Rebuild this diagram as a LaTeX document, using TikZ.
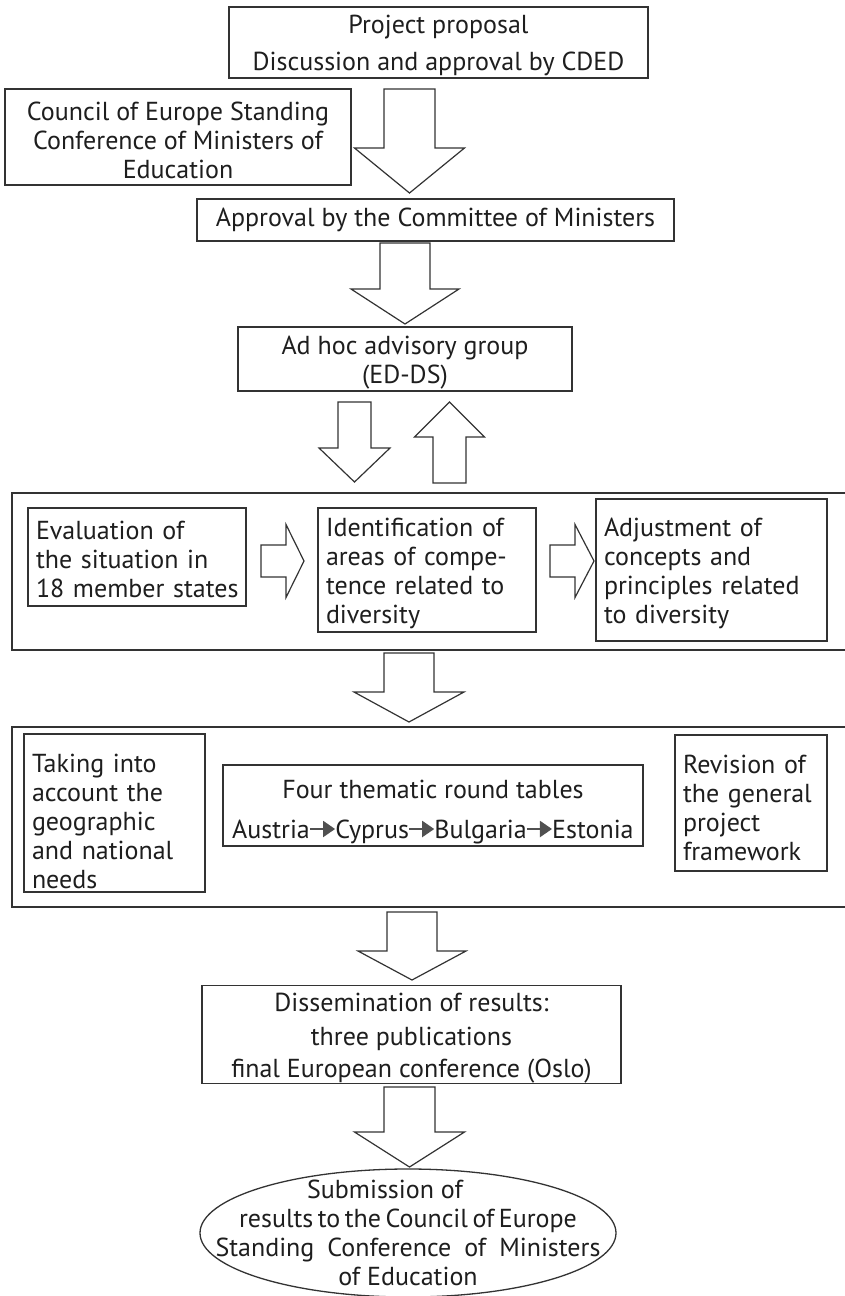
\documentclass[tikz,border=0pt]{standalone}
\usepackage{fontspec}
\setmainfont{PT Sans}
\usetikzlibrary{shapes.geometric,arrows.meta,positioning}
\definecolor{linec}{HTML}{333333}
\definecolor{textc}{HTML}{1E1E1E}
\definecolor{arrc}{HTML}{505050}
% block arrow pointing down (or up when tip < top): x, top y, head-base y, tip y, shaft half width, head half width
\newcommand{\BDown}[6]{\draw[barrow] (#1-#5,#2) -- (#1+#5,#2) -- (#1+#5,#3) -- (#1+#6,#3) -- (#1,#4) -- (#1-#6,#3) -- (#1-#5,#3) -- cycle;}
% block arrow pointing right: y, start x, head-base x, tip x, shaft half, head half
\newcommand{\BRight}[6]{\draw[barrow] (#2,#1-#5) -- (#3,#1-#5) -- (#3,#1-#6) -- (#4,#1) -- (#3,#1+#6) -- (#3,#1+#5) -- (#2,#1+#5) -- cycle;}
\newcommand{\TopPad}[1]{\rule{0pt}{#1}}
\tikzset{
  box/.style={draw=linec, line width=1.3pt, rectangle, inner sep=0pt, text=textc, align=center,
              font=\fontsize{26}{29}\selectfont},
  lbox/.style={box, align=left, inner xsep=8pt},
  outer/.style={draw=linec, line width=1.3pt, rectangle, inner sep=0pt},
  barrow/.style={draw=linec, line width=1.2pt, fill=white, line join=miter},
  txt/.style={inner sep=0pt, text=textc, font=\fontsize{26}{29}\selectfont},
  carrow/.style={draw=arrc, line width=2pt, -{Triangle[length=12pt,width=16pt]}},
}
\begin{document}
\begin{tikzpicture}[x=1pt,y=-1pt]
\fill[white] (0,0) rectangle (844,1296);
\useasboundingbox (0,0) rectangle (844,1296);

% top section
\node[box, minimum width=419pt, minimum height=71pt] (top) at (438.5,42.5)
  {\TopPad{25pt}Project proposal\\[8pt]Discussion and approval by CDED};
\node[box, minimum width=346pt, minimum height=96pt] (council) at (178,137)
  {\TopPad{25pt}Council of Europe Standing\\Conference of Ministers of\\Education};
\BDown{409.5}{89}{148}{193}{25.5}{55}
\node[box, minimum width=477pt, minimum height=42pt] (approval) at (435.5,220)
  {Approval by the Committee of Ministers};
\BDown{405}{243}{289}{324}{25}{54}
\node[box, minimum width=334pt, minimum height=64pt] (adhoc) at (405,359)
  {\TopPad{25pt}Ad hoc advisory group\\(ED-DS)};
\BDown{354.5}{402}{448}{482}{16.5}{35.5}
\BDown{449.5}{483}{437}{402}{16.5}{35}

% first outer frame
\node[outer, minimum width=836pt, minimum height=157pt] (outerA) at (430,571.5) {};
\node[lbox, text width=202pt, minimum height=98pt] (eval) at (137,557)
  {\TopPad{24pt}Evaluation of\\the situation in\\\mbox{18 member states}};
\BRight{561}{261}{286}{304}{16}{36.5}
\node[lbox, text width=202pt, minimum height=124pt] (ident) at (427,570)
  {\TopPad{25pt}Identification of\\areas of compe-\\tence related to\\diversity};
\BRight{561}{550}{575}{594}{16}{36.5}
\node[lbox, text width=215pt, minimum height=142pt] (adjust) at (711.5,570)
  {\TopPad{25pt}Adjustment of\\concepts and\\\mbox{principles related}\\to diversity};

\BDown{409}{653}{692}{722}{25}{55}

% second outer frame
\node[outer, minimum width=836pt, minimum height=180pt] (outerB) at (430,817) {};
\node[lbox, text width=165pt, minimum height=158pt] (taking) at (114.5,813)
  {\TopPad{35pt}Taking into\\account the\\geographic\\and national\\needs};
\node[box, minimum width=420pt, minimum height=81pt] (four) at (433,805.5) {};
\node[txt] (ftitle) at (433,789) {Four thematic round tables};
\node[txt, anchor=base west] (aut) at (232,838) {Austria};
\node[txt, base right=25pt of aut] (cyp) {Cyprus};
\node[txt, base right=25pt of cyp] (bul) {Bulgaria};
\node[txt, base right=25pt of bul] (est) {Estonia};
\draw[carrow] ([yshift=9pt]aut.base east) -- ([yshift=9pt]cyp.base west);
\draw[carrow] ([yshift=9pt]cyp.base east) -- ([yshift=9pt]bul.base west);
\draw[carrow] ([yshift=9pt]bul.base east) -- ([yshift=9pt]est.base west);
\node[lbox, text width=136pt, minimum height=136pt] (revision) at (751,803)
  {\TopPad{28pt}Revision of\\the general\\project\\framework};

\BDown{412}{912}{951}{980}{25}{54}
\node[box, minimum width=419pt, minimum height=97pt] (dissem) at (411.5,1034.5)
  {\TopPad{26pt}Dissemination of results:\\[5pt]three publications\\[3pt]final European conference (Oslo)};
\BDown{409.5}{1087}{1132}{1167}{25.5}{55}

\node[draw=linec, line width=1.3pt, ellipse, minimum width=416pt, minimum height=128pt, inner sep=0pt] (sub) at (408,1233) {};
\node[txt, align=center] (subtxt) at (sub.center)
  {Submission of\hspace*{46pt}\\{\spaceskip=4.5pt plus 1pt results to the Council of Europe}\\Standing\hspace{13pt}Conference\hspace{13pt}of\hspace{13pt}Ministers\\of Education};
\end{tikzpicture}
\end{document}
